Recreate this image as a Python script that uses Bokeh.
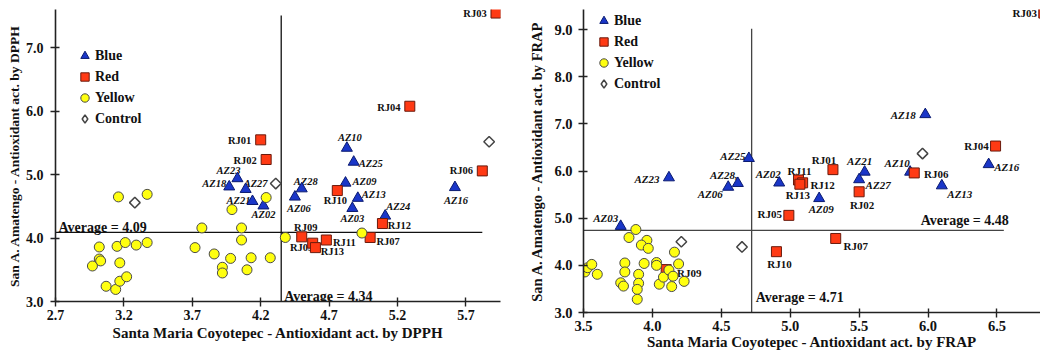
from bokeh.plotting import figure
from bokeh.layouts import row
from bokeh.models import (ColumnDataSource, FixedTicker, PrintfTickFormatter, Legend,
                          LegendItem, Range1d)
from bokeh.core.properties import value
from bokeh.embed import file_html
from bokeh.resources import INLINE
import math

# ---------------- DPPH (left chart) data ----------------
dpph_blue_names = ["AZ02", "AZ03", "AZ06", "AZ09", "AZ10", "AZ13", "AZ16", "AZ18", "AZ21",
                   "AZ23", "AZ24", "AZ25", "AZ27", "AZ28"]
dpph_blue_x = [4.22, 4.87, 4.45, 4.82, 4.83, 4.91, 5.62, 3.97, 4.14, 4.03, 5.11, 4.88, 4.09, 4.50]
dpph_blue_y = [4.51, 4.47, 4.65, 4.87, 5.42, 4.63, 4.80, 4.81, 4.58, 4.94, 4.35, 5.20, 4.77, 4.78]

dpph_red_names = ["RJ01", "RJ02", "RJ03", "RJ04", "RJ05", "RJ06", "RJ07", "RJ09", "RJ10",
                  "RJ11", "RJ12", "RJ13"]
dpph_red_x = [4.20, 4.24, 5.92, 5.29, 4.58, 5.82, 5.00, 4.50, 4.76, 4.68, 5.09, 4.60]
dpph_red_y = [5.55, 5.24, 7.55, 6.08, 3.92, 5.06, 4.01, 4.02, 4.75, 3.97, 4.23, 3.85]

dpph_yellow_x = [3.16, 3.37, 3.02, 3.15, 3.21, 3.29, 3.37, 3.02, 3.03, 2.97, 3.17, 3.07, 3.14,
                 3.17, 3.22, 3.77, 3.72, 3.86, 3.92, 3.92, 3.98, 3.99, 4.06, 4.06, 4.10, 4.13,
                 4.27, 4.24, 4.38, 4.94]
dpph_yellow_y = [4.65, 4.69, 3.86, 3.87, 3.93, 3.89, 3.93, 3.67, 3.64, 3.56, 3.61, 3.24, 3.19,
                 3.32, 3.39, 4.16, 3.85, 3.75, 3.54, 3.45, 3.68, 4.45, 4.16, 3.97, 3.50, 3.69,
                 3.69, 4.64, 4.01, 4.08]

dpph_control_x = [3.28, 4.31, 5.87]
dpph_control_y = [4.56, 4.86, 5.52]

dpph_hline_y = 4.09
dpph_hline_x = [2.7, 5.82]
dpph_vline_x = 4.35
dpph_vline_y = [3.0, 7.51]
dpph_hline_text = "Average = 4.09"
dpph_vline_text = "Average = 4.34"

dpph_xticks = [2.7, 3.2, 3.7, 4.2, 4.7, 5.2, 5.7]
dpph_yticks = [3.0, 4.0, 5.0, 6.0, 7.0]

# ---------------- FRAP (right chart) data ----------------
frap_blue_names = ["AZ02", "AZ03", "AZ06", "AZ09", "AZ10", "AZ13", "AZ16", "AZ18", "AZ21",
                   "AZ23", "AZ25", "AZ27", "AZ28,"]
frap_blue_x = [4.92, 3.77, 4.55, 5.21, 5.87, 6.10, 6.44, 5.98, 5.54, 4.12, 4.70, 5.50, 4.62]
frap_blue_y = [5.75, 4.83, 5.66, 5.42, 5.98, 5.69, 6.14, 7.20, 5.98, 5.86, 6.27, 5.82, 5.74]

frap_red_names = ["RJ01", "RJ02", "RJ03", "RJ04", "RJ05", "RJ06", "RJ07", "RJ09", "RJ10",
                  "RJ11", "RJ12", "RJ13"]
frap_red_x = [5.31, 5.50, 6.84, 6.49, 4.99, 5.90, 5.33, 4.10, 4.90, 5.06, 5.09, 5.07]
frap_red_y = [6.03, 5.56, 9.35, 6.53, 5.06, 5.96, 4.57, 3.91, 4.29, 5.81, 5.75, 5.72]

frap_yellow_x = [3.51, 3.53, 3.56, 3.60, 3.88, 3.83, 3.96, 3.92, 3.97, 3.80, 3.94, 4.03, 4.03,
                 4.16, 4.19, 3.80, 3.77, 3.79, 3.90, 3.90, 3.89, 3.89, 4.05, 4.08, 4.12, 4.15,
                 4.14, 4.23]
frap_yellow_y = [3.86, 3.95, 4.02, 3.81, 4.76, 4.59, 4.53, 4.43, 4.36, 4.05, 4.04, 4.06, 4.00,
                 4.28, 4.03, 3.86, 3.63, 3.56, 3.81, 3.62, 3.49, 3.28, 3.60, 3.75, 3.90, 3.77,
                 3.55, 3.66]

frap_control_x = [4.21, 4.65, 5.96]
frap_control_y = [4.50, 4.39, 6.37]

frap_hline_y = 4.74
frap_hline_x = [3.5, 6.55]
frap_vline_x = 4.72
frap_vline_y = [3.0, 9.02]
frap_hline_text = "Average = 4.48"
frap_vline_text = "Average = 4.71"

frap_xticks = [3.5, 4.0, 4.5, 5.0, 5.5, 6.0, 6.5]
frap_yticks = [3.0, 4.0, 5.0, 6.0, 7.0, 8.0, 9.0]

# ---------------- label placement (screen px, + = right / down) ----------------
dpph_blue_off = [(0, 9), (0, 10), (4, 12), (19, -1), (3, -11), (16, -4), (1, 13), (-15, -3),
                 (-14, -1), (-9, -8), (13, -9), (17, 1), (10, -6), (4, -7)]
dpph_red_off = [(-21, 1), (-21, 1), (-21, 0), (-21, 1), (-11, 4), (-21, 0), (18, 4), (4, -9),
                (-2, 10), (18, 2), (17, 2), (17, 4)]
frap_blue_off = [(-11, -9), (-15, -8), (-18, 7), (2, 11), (-13, -9), (18, 8), (18, 3), (-22, 1),
                 (-5, -11), (-22, 1), (-16, -2), (19, 5), (-14, -8)]
frap_red_off = [(-9, -10), (3, 13), (-19, 0), (-19, 0), (-19, -1), (22, 1), (20, 8), (23, 3),
                (3, 12), (1, -9), (20, 2), (-2, 11)]

FONT = "Liberation Serif"
BLUE, BLUE_EDGE = "#1a36c8", "#0a1a70"
RED, RED_EDGE = "#ff3a14", "#6a1a0c"
YEL, YEL_EDGE = "#ffff10", "#4a4a4a"
CTRL_EDGE = "#444444"


def make_chart(width, height, borders, xr, yr, xticks, yticks, xlabel, ylabel, sizes,
               blue, red, yellow, control, hline, vline, htext, vtext, offsets, legend_loc,
               line_color, lab_font):
    p = figure(width=width, height=height, output_backend="svg", toolbar_location=None,
               x_range=Range1d(*xr), y_range=Range1d(*yr),
               min_border_left=borders[0], min_border_right=borders[1],
               min_border_top=borders[2], min_border_bottom=borders[3])
    p.grid.visible = False
    p.outline_line_color = None
    p.background_fill_color = "white"

    tick_font, ytitle_font, xstand, xlstand, ystand, ylstand = sizes
    for ax in (p.xaxis[0], p.yaxis[0]):
        ax.axis_line_color = "#222222"
        ax.axis_line_width = 1.6
        ax.major_tick_line_color = "#222222"
        ax.major_tick_line_width = 1.4
        ax.major_tick_in = 4
        ax.major_tick_out = 5
        ax.minor_tick_line_color = None
        ax.major_label_text_font = FONT
        ax.major_label_text_font_style = "bold"
        ax.major_label_text_font_size = tick_font
        ax.major_label_text_color = "#111111"
        ax.axis_label_text_font = FONT
        ax.axis_label_text_font_style = "bold"
        ax.axis_label_text_color = "#111111"
        ax.formatter = PrintfTickFormatter(format="%.1f")
    p.xaxis[0].ticker = FixedTicker(ticks=xticks)
    p.yaxis[0].ticker = FixedTicker(ticks=yticks)
    p.xaxis[0].axis_label = xlabel
    p.yaxis[0].axis_label = ylabel
    p.xaxis[0].axis_label_text_font_size = "15px"
    p.yaxis[0].axis_label_text_font_size = ytitle_font
    p.xaxis[0].major_label_standoff = xstand
    p.xaxis[0].axis_label_standoff = xlstand
    p.yaxis[0].major_label_standoff = ystand
    p.yaxis[0].axis_label_standoff = ylstand

    # average lines
    p.line(hline[1], [hline[0]] * 2, line_color=line_color, line_width=1.3)
    p.line([vline[0]] * 2, vline[1], line_color=line_color, line_width=1.3)
    p.text([hline[1][htext[4]]], [hline[0]], text=[htext[0]], x_offset=htext[1],
           y_offset=htext[2], text_align=htext[3], text_baseline="alphabetic",
           text_font=value(FONT), text_font_style="bold", text_font_size="14px",
           text_color="#111111")
    p.text([vline[0]], [vline[1][0]], text=[vtext[0]], x_offset=vtext[1], y_offset=vtext[2],
           text_align="left", text_baseline="alphabetic", text_font=value(FONT),
           text_font_style="bold", text_font_size="14px", text_color="#111111")

    # point labels
    bsrc = ColumnDataSource(dict(x=blue[0], y=blue[1], t=blue[2],
                                 dx=[o[0] for o in offsets[0]], dy=[o[1] for o in offsets[0]]))
    rsrc = ColumnDataSource(dict(x=red[0], y=red[1], t=red[2],
                                 dx=[o[0] for o in offsets[1]], dy=[o[1] for o in offsets[1]]))
    p.text("x", "y", text="t", x_offset="dx", y_offset="dy", source=bsrc, text_align="center",
           text_baseline="middle", text_font=value(FONT), text_font_style="bold italic",
           text_font_size=lab_font, text_color="#111111")
    p.text("x", "y", text="t", x_offset="dx", y_offset="dy", source=rsrc, text_align="center",
           text_baseline="middle", text_font=value(FONT), text_font_style="bold",
           text_font_size=lab_font, text_color="#111111")

    # markers
    rb = p.scatter("x", "y", source=bsrc, marker="triangle", size=11, fill_color=BLUE,
                   line_color=BLUE_EDGE, line_width=1)
    rr = p.scatter("x", "y", source=rsrc, marker="square", size=10, fill_color=RED,
                   line_color=RED_EDGE, line_width=1)
    ry = p.scatter(yellow[0], yellow[1], marker="circle", size=10, fill_color=YEL,
                   line_color=YEL_EDGE, line_width=1)
    p.scatter(control[0], control[1], marker="square", size=7.5, angle=math.pi / 4,
              fill_color="white", line_color=CTRL_EDGE, line_width=1.5)
    # legend-only glyph for the control samples (hidden in the plot area)
    rc_leg = p.scatter(control[0], control[1], marker="diamond", size=12,
                       fill_color="white", line_color=CTRL_EDGE, line_width=1.5,
                       visible=False)

    legend = Legend(items=[LegendItem(label="Blue", renderers=[rb]),
                           LegendItem(label="Red", renderers=[rr]),
                           LegendItem(label="Yellow", renderers=[ry]),
                           LegendItem(label="Control", renderers=[rc_leg])],
                    location=legend_loc, orientation="vertical", glyph_width=21,
                    glyph_height=21, label_standoff=0, spacing=0, padding=0, margin=0,
                    border_line_color=None, background_fill_alpha=0, label_height=21,
                    inactive_fill_alpha=0,
                    label_text_font=FONT, label_text_font_style="bold",
                    label_text_font_size="14px", label_text_color="#111111")
    p.add_layout(legend)
    return p


p1 = make_chart(
    515, 345, (55, 15, 9, 44), (2.7, 5.953), (3.0, 7.606), dpph_xticks, dpph_yticks,
    "Santa Maria Coyotepec - Antioxidant act. by DPPH",
    "San A. Amatengo - Antioxidant act. by DPPH",
    ("14px", "13.5px", 3, 2, 7, 1),
    (dpph_blue_x, dpph_blue_y, dpph_blue_names),
    (dpph_red_x, dpph_red_y, dpph_red_names),
    (dpph_yellow_x, dpph_yellow_y), (dpph_control_x, dpph_control_y),
    (dpph_hline_y, dpph_hline_x), (dpph_vline_x, dpph_vline_y),
    (dpph_hline_text, 3, -4.5, "left", 0), (dpph_vline_text, 3, -5),
    (dpph_blue_off, dpph_red_off), (19, 172), "#111111", "10.5px")

p2 = make_chart(
    525, 356, (68, 0, 9, 44), (3.5, 6.816), (3.0, 9.426), frap_xticks, frap_yticks,
    "Santa Maria Coyotepec - Antioxidant act. by FRAP",
    "San A. Amatengo - Antioxidant act. by FRAP",
    ("14.5px", "14.5px", 3, 0, 6, 6),
    (frap_blue_x, frap_blue_y, frap_blue_names),
    (frap_red_x, frap_red_y, frap_red_names),
    (frap_yellow_x, frap_yellow_y), (frap_control_x, frap_control_y),
    (frap_hline_y, frap_hline_x), (frap_vline_x, frap_vline_y),
    (frap_hline_text, 5, -9.5, "right", 1), (frap_vline_text, 4, -15),
    (frap_blue_off, frap_red_off), (10, 218), "#444444", "11px")

layout = row(p1, p2)
open("out.html", "w").write(file_html(layout, INLINE))
